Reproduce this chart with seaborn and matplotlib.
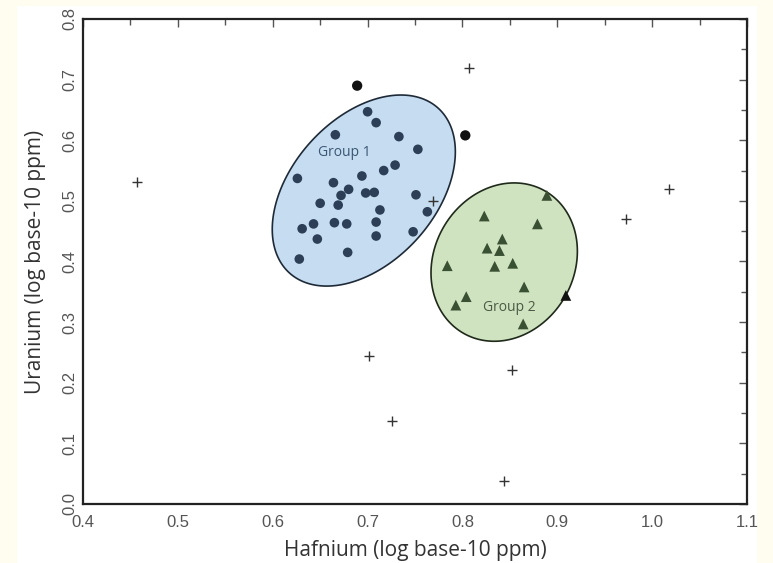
# Hafnium vs Uranium scatter, two groups with ellipses + outliers
import numpy as np
import pandas as pd
import matplotlib
matplotlib.use("Agg")
import matplotlib.pyplot as plt
from matplotlib.patches import Rectangle
from matplotlib.ticker import MultipleLocator, FormatStrFormatter
import seaborn as sns

# Group 1 (circles)
g1_hf = [0.700, 0.709, 0.666, 0.733, 0.753, 0.626, 0.664, 0.694, 0.717, 0.729,
         0.680, 0.672, 0.698, 0.707, 0.751, 0.650, 0.669, 0.713, 0.763, 0.631,
         0.643, 0.665, 0.678, 0.709, 0.647, 0.709, 0.748, 0.628, 0.679]
g1_u = [0.647, 0.629, 0.609, 0.606, 0.585, 0.537, 0.530, 0.541, 0.550, 0.559,
        0.519, 0.509, 0.513, 0.514, 0.510, 0.496, 0.493, 0.485, 0.482, 0.454,
        0.462, 0.464, 0.462, 0.465, 0.437, 0.442, 0.449, 0.404, 0.415]

# Group 2 (triangles)
g2_hf = [0.889, 0.823, 0.879, 0.842, 0.826, 0.839, 0.784, 0.834, 0.853, 0.865,
         0.804, 0.793, 0.864]
g2_u = [0.509, 0.475, 0.462, 0.437, 0.422, 0.418, 0.393, 0.392, 0.397, 0.358,
        0.342, 0.328, 0.297]

# outliers
black_circ_hf = [0.689, 0.803]
black_circ_u = [0.690, 0.608]
black_tri_hf = [0.909]
black_tri_u = [0.344]
plus_hf = [0.457, 0.807, 0.769, 1.018, 0.972, 0.702, 0.852, 0.726, 0.844]
plus_u = [0.531, 0.719, 0.500, 0.520, 0.470, 0.244, 0.221, 0.137, 0.038]

# group ellipses: centre (data), semi-axes (px), angle (deg)
ell1 = dict(cx=0.696, cy=0.517, a=111, b=72, ang=48)
ell2 = dict(cx=0.844, cy=0.399, a=82, b=70, ang=60)

sns.set_style("white")
plt.rcParams["font.family"] = ["Liberation Sans", "DejaVu Sans"]

fig = plt.figure(figsize=(7.73, 5.63), dpi=100, facecolor="#fffdf0")
fig.patches.append(Rectangle((0.022, 0), 0.957, 0.989, transform=fig.transFigure,
                             facecolor="white", edgecolor="none", zorder=-10))
ax = fig.add_axes([0.1074, 0.1048, 0.859, 0.8615])
ax.set_xlim(0.4, 1.1)
ax.set_ylim(0, 0.8)


def ellipse_pts(cx, cy, a, b, ang):
    t = np.linspace(0, 2 * np.pi, 300)
    th = np.deg2rad(ang)
    u = a * np.cos(t) * np.cos(th) - b * np.sin(t) * np.sin(th)
    v = a * np.cos(t) * np.sin(th) + b * np.sin(t) * np.cos(th)
    px, py = ax.transData.transform((cx, cy))
    return ax.transData.inverted().transform(np.column_stack([px + u, py + v]))


p1 = ellipse_pts(**ell1)
ax.fill(p1[:, 0], p1[:, 1], facecolor="#c6dcf0", edgecolor="#1e2a38", lw=1.2, zorder=1)
p2 = ellipse_pts(**ell2)
ax.fill(p2[:, 0], p2[:, 1], facecolor="#cfe3c1", edgecolor="#1f2a1a", lw=1.2, zorder=1)

df1 = pd.DataFrame({"hf": g1_hf, "u": g1_u})
df2 = pd.DataFrame({"hf": g2_hf, "u": g2_u})

sns.scatterplot(data=df1, x="hf", y="u", marker="o", s=48, color="#2c3f56",
                edgecolor="none", ax=ax, zorder=3)
sns.scatterplot(data=df2, x="hf", y="u", marker="^", s=60, color="#3a5032",
                edgecolor="none", ax=ax, zorder=3)
sns.scatterplot(x=black_circ_hf, y=black_circ_u, marker="o", s=55, color="#111111",
                edgecolor="none", ax=ax, zorder=3)
sns.scatterplot(x=black_tri_hf, y=black_tri_u, marker="^", s=60, color="#111111",
                edgecolor="none", ax=ax, zorder=3)
sns.scatterplot(x=plus_hf, y=plus_u, marker="+", s=55, color="#333333",
                linewidth=1.0, ax=ax, zorder=3)

ax.text(0.676, 0.579, "Group 1", ha="center", va="center", fontsize=10,
        color="#3b5673", family="Open Sans", zorder=4)
ax.text(0.849, 0.324, "Group 2", ha="center", va="center", fontsize=10,
        color="#4b5a42", family="Open Sans", zorder=4)

ax.xaxis.set_major_locator(MultipleLocator(0.1))
ax.xaxis.set_minor_locator(MultipleLocator(0.05))
ax.yaxis.set_major_locator(MultipleLocator(0.1))
ax.yaxis.set_minor_locator(MultipleLocator(0.05))
ax.xaxis.set_major_formatter(FormatStrFormatter("%.1f"))
ax.yaxis.set_major_formatter(FormatStrFormatter("%.1f"))
ax.tick_params(which="both", direction="in", top=True, right=True,
               color="#555555", width=1.0, labelcolor="#555555", labelsize=12)
ax.tick_params(axis="x", pad=8)
ax.tick_params(axis="y", pad=4, labelrotation=90)
ax.tick_params(which="major", length=6)
ax.tick_params(which="minor", length=4)
for s in ax.spines.values():
    s.set_linewidth(1.6)
    s.set_color("#222222")

ax.set_xlabel("Hafnium (log base-10 ppm)", fontsize=15, color="#333333",
              family="Open Sans", labelpad=7)
ax.set_ylabel("Uranium (log base-10 ppm)", fontsize=15, color="#333333",
              family="Open Sans", labelpad=12)

fig.canvas.draw()
ax.xaxis.get_major_ticks()[0].label1.set_horizontalalignment("left")
for t in ax.yaxis.get_major_ticks():
    t.label1.set_verticalalignment("center")

fig.savefig("out.png", dpi=100, facecolor=fig.get_facecolor())
